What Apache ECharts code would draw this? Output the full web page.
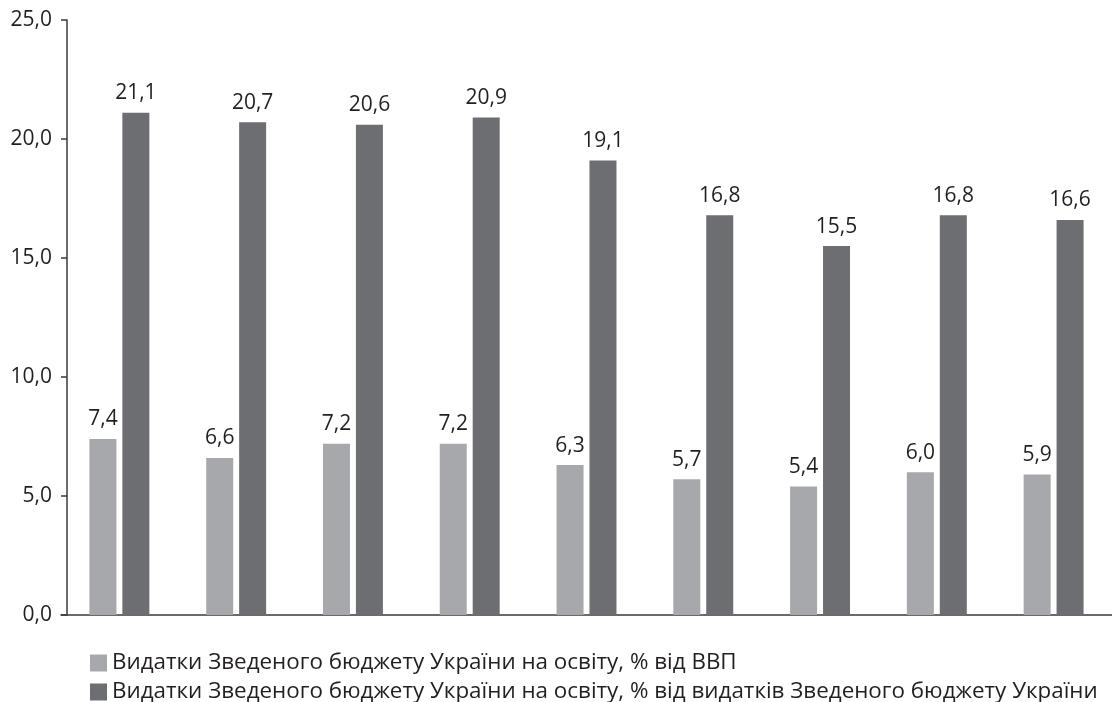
<!DOCTYPE html>
<html>
<head>
<meta charset="utf-8">
<script src="https://cdn.jsdelivr.net/npm/echarts@6/dist/echarts.min.js"></script>
<style>html,body{margin:0;padding:0;background:#fff}#c{width:1112px;height:702px}</style>
</head>
<body>
<div id="c"></div>
<script>
const categories = ['1','2','3','4','5','6','7','8','9'];
const seriesNames = [
  'Видатки Зведеного бюджету України на освіту, % від ВВП',
  'Видатки Зведеного бюджету України на освіту, % від видатків Зведеного бюджету України'
];
const gdpShare = [7.4, 6.6, 7.2, 7.2, 6.3, 5.7, 5.4, 6.0, 5.9];
const budgetShare = [21.1, 20.7, 20.6, 20.9, 19.1, 16.8, 15.5, 16.8, 16.6];

const FONT = '"Open Sans", "Noto Sans", sans-serif';
const fmt = v => v.toFixed(1).replace('.', ',');
const chart = echarts.init(document.getElementById('c'));
const labelCfg = {
  show: true, position: 'top', distance: 9,
  color: '#231f20', fontFamily: FONT, fontSize: 21,
  formatter: p => fmt(p.value)
};
const legendBase = {
  orient: 'horizontal', left: 90, padding: 0,
  itemWidth: 17, itemHeight: 17, icon: 'rect',
  textStyle: { fontFamily: FONT, fontSize: 22.4, lineHeight: 26, color: '#231f20' }
};
chart.setOption({
  animation: false,
  grid: { left: 61, right: -14, top: 20, bottom: 87, containLabel: false },
  legend: [
    Object.assign({}, legendBase, { top: 650, data: [seriesNames[0]] }),
    Object.assign({}, legendBase, { top: 679, data: [seriesNames[1]] })
  ],
  xAxis: {
    type: 'category', data: categories,
    axisLine: { show: true, lineStyle: { color: '#3a3a3a', width: 1.5 } },
    axisTick: { show: false }, axisLabel: { show: false }
  },
  yAxis: {
    type: 'value', min: 0, max: 25, interval: 5, offset: -6,
    axisLine: { show: true, lineStyle: { color: '#3a3a3a', width: 1.5 } },
    axisTick: { show: true, length: 6, lineStyle: { color: '#3a3a3a', width: 1.5 } },
    splitLine: { show: false },
    axisLabel: { margin: 15, fontFamily: FONT, fontSize: 21, color: '#231f20', formatter: v => fmt(v) }
  },
  series: [
    { name: seriesNames[0], type: 'bar', data: gdpShare, barWidth: 27, barGap: '22%',
      itemStyle: { color: '#a7a8ac' }, label: labelCfg },
    { name: seriesNames[1], type: 'bar', data: budgetShare, barWidth: 27,
      itemStyle: { color: '#6d6e72' }, label: labelCfg }
  ]
});
</script>
</body>
</html>
